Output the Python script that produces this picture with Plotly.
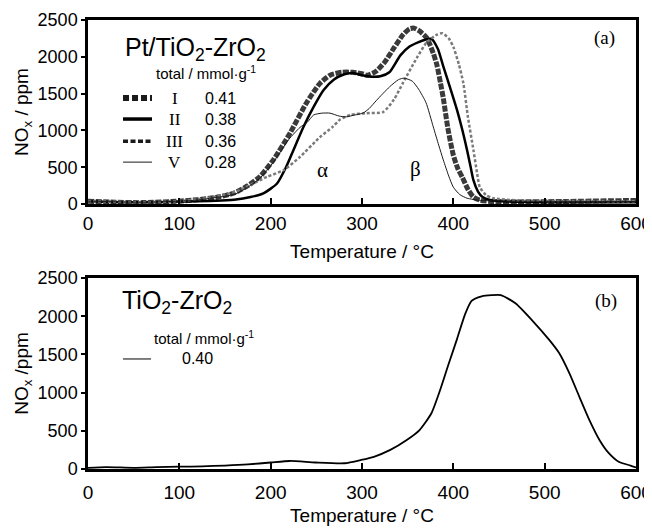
import plotly.graph_objects as go
from plotly.subplots import make_subplots

# ---------------- data ----------------
# (a) Pt/TiO2-ZrO2
t_I = [0, 30, 60, 100, 120, 140, 160, 175, 188, 203, 221, 239, 254, 265, 278, 290, 300, 306, 315, 325,
       335, 345, 352, 357, 363, 371, 378, 382, 386, 389, 394, 400, 405, 410, 416, 422, 430, 445, 470, 520, 600]
v_I = [40, 25, 20, 40, 60, 90, 150, 250, 371, 600, 960, 1370, 1640, 1750, 1790, 1790, 1770, 1750, 1800, 1930,
       2120, 2300, 2380, 2390, 2350, 2255, 2050, 1890, 1640, 1440, 1030, 665, 480, 360, 200, 95, 50, 35, 30, 35, 50]

t_II = [0, 50, 100, 140, 160, 178, 192, 207, 217, 225, 236, 247, 258, 269, 280, 290, 300, 310, 320, 330,
        342, 352, 362, 370, 376, 383, 389, 396, 404, 410, 415, 419, 422, 427, 432, 440, 460, 520, 600]
v_II = [40, 25, 35, 45, 60, 95, 145, 280, 505, 735, 1050, 1320, 1550, 1690, 1760, 1780, 1750, 1730, 1735, 1790,
        2020, 2140, 2200, 2235, 2245, 2110, 1870, 1600, 1280, 1000, 735, 500, 325, 170, 95, 55, 35, 25, 25]

t_III = [0, 60, 100, 130, 150, 166, 181, 196, 214, 232, 254, 268, 276, 287, 305, 323, 335, 345, 360, 371,
         382, 388, 395, 400, 406, 411, 416, 422, 426, 429, 436, 444, 470, 600]
v_III = [40, 25, 40, 80, 130, 190, 280, 370, 460, 640, 910, 1050, 1150, 1210, 1235, 1250, 1420, 1650, 1985, 2200,
         2300, 2320, 2250, 2135, 1900, 1640, 1180, 735, 420, 230, 120, 80, 50, 40]

t_V = [0, 60, 100, 120, 140, 160, 175, 188, 203, 220, 232, 240, 247, 256, 265, 275, 283, 292, 301, 308,
       316, 330, 340, 346, 355, 362, 370, 378, 384, 389, 395, 400, 407, 415, 430, 470, 600]
v_V = [40, 25, 40, 55, 90, 130, 230, 350, 570, 880, 1040, 1110, 1210, 1235, 1235, 1195, 1185, 1210, 1235, 1300,
       1410, 1590, 1690, 1710, 1670, 1560, 1380, 1050, 800, 600, 380, 230, 130, 80, 50, 40, 35]

# (b) TiO2-ZrO2
t_b = [0, 20, 50, 75, 100, 125, 150, 175, 200, 221, 249, 281, 299, 313, 331, 349, 363, 376, 386, 395,
       404, 413, 420, 431, 442, 452, 468, 486, 505, 516, 527, 538, 549, 560, 570, 581, 594, 600]
v_b = [15, 25, 15, 25, 30, 35, 45, 60, 85, 105, 85, 75, 118, 160, 250, 380, 510, 730, 1050, 1380,
       1700, 2030, 2200, 2260, 2275, 2275, 2170, 1950, 1690, 1515, 1255, 945, 640, 380, 210, 95, 45, 20]

names_a = ["I", "II", "III", "V"]
totals_a = ["0.41", "0.38", "0.36", "0.28"]
total_b = "0.40"

x_ticks = [0, 100, 200, 300, 400, 500, 600]
y_ticks = [0, 500, 1000, 1500, 2000, 2500]

# ---------------- styles ----------------
SANS = "Liberation Sans, Arial, sans-serif"
SERIF = "Liberation Serif, Times New Roman, serif"
styles = [
    dict(color="#3a3a3a", width=5, dash="6px,1.5px"),
    dict(color="#000000", width=2.5, dash="solid"),
    dict(color="#7a7a7a", width=2.5, dash="3px,2px"),
    dict(color="#1a1a1a", width=1, dash="solid"),
]
legend_styles = [
    dict(color="#1a1a1a", width=6, dash="6px,3px"),
    dict(color="#000000", width=3.5, dash="solid"),
    dict(color="#1a1a1a", width=3.5, dash="5px,2.5px"),
    dict(color="#1a1a1a", width=1, dash="solid"),
]

fig = make_subplots(rows=2, cols=1, vertical_spacing=0.0)

series_a = [(t_I, v_I), (t_II, v_II), (t_III, v_III), (t_V, v_V)]
for (tx, vy), st, nm in zip(series_a, styles, names_a):
    fig.add_trace(go.Scatter(x=tx, y=vy, mode="lines", name=nm,
                             line=dict(shape="spline", smoothing=0.6, **st),
                             showlegend=False), row=1, col=1)

fig.add_trace(go.Scatter(x=t_b, y=v_b, mode="lines", name="TiO2-ZrO2",
                         line=dict(color="black", width=1.8, shape="spline", smoothing=0.6),
                         showlegend=False), row=2, col=1)

axis_common = dict(showline=True, mirror=True, linewidth=2.5, linecolor="black",
                   showgrid=False, zeroline=False, automargin=False)

for r, lab_pad, tstand in ((1, 0, 13), (2, 4, 8)):
    fig.update_xaxes(range=[0, 600], tickvals=x_ticks, ticks="inside", ticklen=6, tickwidth=1.5,
                     tickcolor="black", tickfont=dict(family=SANS, size=19, color="black"),
                     ticklabelstandoff=lab_pad,
                     title=dict(text="Temperature / \u00b0C", font=dict(family=SANS, size=19, color="black"),
                                standoff=tstand),
                     row=r, col=1, **axis_common)
    fig.update_yaxes(range=[0, 2500], tickvals=y_ticks, ticks="outside", ticklen=4, tickwidth=1.5,
                     tickcolor="black", tickfont=dict(family=SANS, size=18, color="black"),
                     row=r, col=1, **axis_common)

fig.update_yaxes(title=dict(text="NO<sub>x</sub> / ppm", font=dict(family=SANS, size=19, color="black"),
                            standoff=4), row=1, col=1)
fig.update_yaxes(title=dict(text="NO<sub>x</sub> /ppm", font=dict(family=SANS, size=19, color="black"),
                            standoff=4), row=2, col=1)

# the page body adds an 8px margin, so the figure is offset to compensate
fig.update_layout(
    width=652, height=520,
    margin=dict(l=80, r=24, t=12, b=59),
    paper_bgcolor="white", plot_bgcolor="white",
    xaxis=dict(domain=[0, 1]), xaxis2=dict(domain=[0, 1]),
    yaxis=dict(domain=[0.590, 1.0]), yaxis2=dict(domain=[0.0, 0.4254]),
    showlegend=False,
)

ann = []
shapes = []

# panel (a) labels
ann.append(dict(xref="x domain", yref="y domain", x=0.064, y=0.746, xanchor="left", yanchor="bottom",
                text="Pt/TiO<sub>2</sub>-ZrO<sub>2</sub>", showarrow=False,
                font=dict(family=SANS, size=25, color="black")))
ann.append(dict(xref="x domain", yref="y domain", x=0.120, y=0.717, xanchor="left", yanchor="middle",
                text="total / mmol\u00b7g<sup>-1</sup>", showarrow=False,
                font=dict(family=SANS, size=15, color="black")))
row_y = [0.576, 0.462, 0.342, 0.228]
for nm, tot, ry, st in zip(names_a, totals_a, row_y, legend_styles):
    shapes.append(dict(type="line", xref="x domain", yref="y domain", x0=0.0639, x1=0.1168, y0=ry, y1=ry,
                       line=st))
    ann.append(dict(xref="x domain", yref="y domain", x=0.158, y=ry, xanchor="center", yanchor="middle",
                    text=nm, showarrow=False, font=dict(family=SERIF, size=17, color="black")))
    ann.append(dict(xref="x domain", yref="y domain", x=0.2099, y=ry, xanchor="left", yanchor="middle",
                    text=tot, showarrow=False, font=dict(family=SANS, size=16, color="black")))
ann.append(dict(xref="x domain", yref="y domain", x=0.943, y=0.902, xanchor="center", yanchor="middle",
                text="(a)", showarrow=False, font=dict(family=SERIF, size=19, color="black")))
ann.append(dict(xref="x", yref="y", x=257, y=460, text="\u03b1", showarrow=False,
                font=dict(family=SERIF, size=21, color="black")))
ann.append(dict(xref="x", yref="y", x=359, y=475, text="\u03b2", showarrow=False,
                font=dict(family=SERIF, size=21, color="black")))

# panel (b) labels
ann.append(dict(xref="x2 domain", yref="y2 domain", x=0.058, y=0.778, xanchor="left", yanchor="bottom",
                text="TiO<sub>2</sub>-ZrO<sub>2</sub>", showarrow=False,
                font=dict(family=SANS, size=25, color="black")))
ann.append(dict(xref="x2 domain", yref="y2 domain", x=0.117, y=0.686, xanchor="left", yanchor="middle",
                text="total / mmol\u00b7g<sup>-1</sup>", showarrow=False,
                font=dict(family=SANS, size=15, color="black")))
shapes.append(dict(type="line", xref="x2 domain", yref="y2 domain", x0=0.0639, x1=0.1150, y0=0.576, y1=0.576,
                   line=dict(color="black", width=1)))
ann.append(dict(xref="x2 domain", yref="y2 domain", x=0.168, y=0.576, xanchor="left", yanchor="middle",
                text=total_b, showarrow=False, font=dict(family=SANS, size=16, color="black")))
ann.append(dict(xref="x2 domain", yref="y2 domain", x=0.945, y=0.880, xanchor="center", yanchor="middle",
                text="(b)", showarrow=False, font=dict(family=SERIF, size=19, color="black")))

fig.update_layout(annotations=ann, shapes=shapes)

fig.write_html("out.html")
